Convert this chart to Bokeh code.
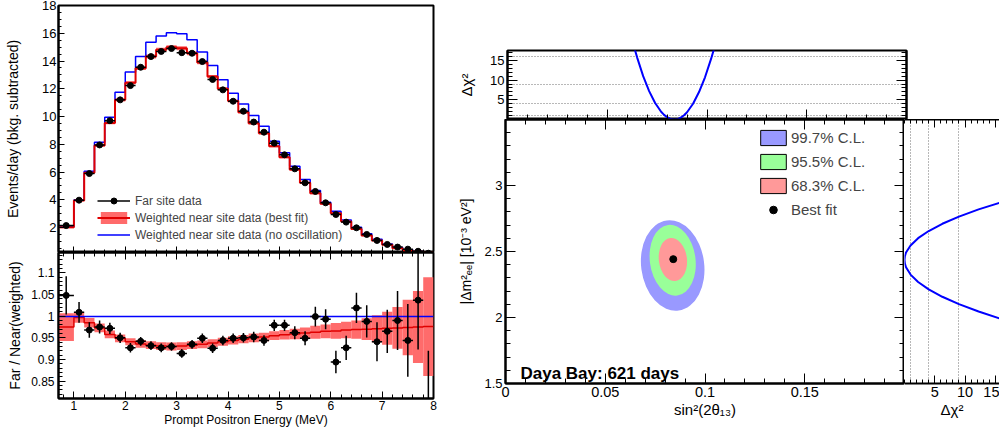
from bokeh.plotting import figure
from bokeh.layouts import row, column
from bokeh.models import (Range1d, LinearAxis, SingleIntervalTicker, FixedTicker,
                          NumeralTickFormatter, Legend, LegendItem, Label,
                          CustomLabelingPolicy)
from bokeh.embed import file_html
from bokeh.resources import INLINE

FONT = "Liberation Sans"
NAN = float("nan")

# ---------------- data: prompt spectrum ----------------
bin_edges = [0.7, 1.0, 1.2, 1.4, 1.6, 1.8, 2.0, 2.2, 2.4, 2.6, 2.8, 3.0, 3.2, 3.4, 3.6, 3.8,
             4.0, 4.2, 4.4, 4.6, 4.8, 5.0, 5.2, 5.4, 5.6, 5.8, 6.0, 6.2, 6.4, 6.6, 6.8, 7.0,
             7.2, 7.4, 7.6, 7.8, 8.0]
far_rate = [2.14, 3.97, 5.89, 7.95, 9.70, 11.20, 12.23, 13.55, 14.32, 14.69, 14.90, 14.60,
            14.56, 13.96, 12.67, 11.92, 11.10, 10.38, 9.60, 8.87, 8.08, 7.24, 6.23, 5.22,
            4.60, 3.78, 2.94, 2.39, 1.98, 1.50, 1.07, 0.78, 0.59, 0.44, 0.29, 0.15]
far_rate_err = [0.09, 0.10, 0.11, 0.12, 0.13, 0.14, 0.15, 0.14, 0.15, 0.16, 0.16, 0.16,
                0.16, 0.16, 0.15, 0.14, 0.13, 0.12, 0.12, 0.11, 0.11, 0.10, 0.10, 0.09,
                0.11, 0.09, 0.08, 0.07, 0.07, 0.06, 0.05, 0.04, 0.04, 0.03, 0.03, 0.03]
fit_rate = [2.02, 3.95, 5.94, 7.91, 9.54, 11.20, 12.43, 13.48, 14.32, 14.81, 15.00, 14.92,
            14.56, 13.90, 12.88, 12.00, 11.12, 10.31, 9.52, 8.80, 7.86, 7.07, 6.18, 5.22,
            4.47, 3.71, 3.03, 2.43, 1.90, 1.42, 1.06, 0.75, 0.51, 0.34, 0.25, 0.18]
fit_rate_err = [0.07, 0.05, 0.07, 0.08, 0.09, 0.11, 0.11, 0.13, 0.14, 0.14, 0.14, 0.14,
                0.14, 0.13, 0.12, 0.11, 0.11, 0.10, 0.10, 0.09, 0.08, 0.08, 0.08, 0.07,
                0.07, 0.06, 0.06, 0.05, 0.04, 0.04, 0.04, 0.03, 0.03, 0.02, 0.02, 0.02]
noosc_rate = [2.05, 3.99, 6.06, 8.15, 9.95, 11.75, 13.20, 14.33, 15.36, 15.80, 16.04, 15.96,
              15.53, 14.65, 13.68, 12.65, 11.68, 10.90, 10.07, 9.30, 8.22, 7.38, 6.42, 5.46,
              4.67, 3.82, 3.17, 2.55, 2.02, 1.55, 1.16, 0.82, 0.56, 0.38, 0.27, 0.19]

# ---------------- data: far / near ratio ----------------
ratio_data = [1.048, 1.009, 0.968, 0.975, 0.972, 0.950, 0.927, 0.942, 0.932, 0.927, 0.930, 0.914,
              0.935, 0.949, 0.926, 0.944, 0.949, 0.950, 0.952, 0.944, 0.979, 0.979, 0.962, 0.949,
              0.999, 0.993, 0.894, 0.927, 1.019, 0.988, 0.941, 0.965, 0.990, 0.944, 1.037, 0.770]
ratio_err = [0.044, 0.024, 0.018, 0.015, 0.013, 0.012, 0.011, 0.010, 0.010, 0.010, 0.010, 0.010,
             0.010, 0.011, 0.011, 0.011, 0.011, 0.011, 0.012, 0.012, 0.013, 0.013, 0.015, 0.016,
             0.023, 0.023, 0.026, 0.028, 0.035, 0.037, 0.045, 0.050, 0.068, 0.084, 0.114, 0.150]
ratio_fit = [0.975, 0.997, 0.985, 0.973, 0.958, 0.949, 0.941, 0.936, 0.933, 0.931, 0.930, 0.931,
             0.933, 0.935, 0.938, 0.941, 0.944, 0.947, 0.950, 0.952, 0.955, 0.957, 0.959, 0.961,
             0.963, 0.965, 0.966, 0.968, 0.969, 0.970, 0.971, 0.972, 0.973, 0.974, 0.975, 0.976]
ratio_fit_err = [0.032, 0.012, 0.011, 0.010, 0.009, 0.009, 0.008, 0.009, 0.009, 0.009, 0.009, 0.009,
                 0.009, 0.009, 0.009, 0.009, 0.0095, 0.0095, 0.010, 0.010, 0.010, 0.011, 0.012, 0.013,
                 0.015, 0.016, 0.018, 0.019, 0.021, 0.025, 0.031, 0.038, 0.048, 0.064, 0.083, 0.114]
noosc_ratio = 1.0

# ---------------- data: oscillation fit ----------------
cl_labels = ["99.7% C.L.", "95.5% C.L.", "68.3% C.L."]
cl_s2t = [0.0838, 0.0838, 0.0839]
cl_dm2 = [2.394, 2.434, 2.439]
cl_width = [0.0316, 0.0229, 0.0141]
cl_height = [0.689, 0.540, 0.328]
cl_angle = [0.13, 0.13, 0.12]
best_s2t = [0.0841]
best_dm2 = [2.442]

scan_s2t = [0.0630, 0.0650, 0.0680, 0.0710, 0.0740, 0.0770, 0.0785, 0.0800, 0.0815, 0.0836,
            0.0855, 0.0870, 0.0885, 0.0900, 0.0930, 0.0960, 0.0990, 0.1020, 0.1045]
scan_s2t_chi2 = [19.2, 15.7, 11.0, 7.2, 4.2, 1.97, 1.18, 0.59, 0.20, 0.0,
                 0.16, 0.52, 1.09, 1.85, 4.0, 6.96, 10.7, 15.3, 19.6]

scan_dm2 = [2.927, 2.873, 2.819, 2.764, 2.710, 2.655, 2.601, 2.546, 2.492, 2.464, 2.437,
            2.409, 2.381, 2.325, 2.269, 2.213, 2.157, 2.101, 2.045, 1.989, 1.933]
scan_dm2_chi2 = [20.25, 16.0, 12.25, 9.0, 6.25, 4.0, 2.25, 1.0, 0.25, 0.0625, 0.0,
                 0.0625, 0.25, 1.0, 2.25, 4.0, 6.25, 9.0, 12.25, 16.0, 20.25]

sigma_levels = [1, 4, 9, 16]

# ---------------- colours ----------------
C_FIT = "#e00000"
C_BAND = "#ff6b6b"
C_BLUE = "#0000ff"
CL_COLORS = ["#9999ff", "#99ff99", "#ff9999"]
GRID = "#707070"

# derived helpers
lefts = bin_edges[:-1]
rights = bin_edges[1:]
centers = [(a + b) / 2 for a, b in zip(lefts, rights)]


def steps(vals):
    return list(vals) + [vals[-1]]


def style_axis(ax, tmaj, tmin, label_size=None, standoff=3):
    ax.major_tick_in = tmaj
    ax.major_tick_out = 0
    ax.minor_tick_in = tmin
    ax.minor_tick_out = 0
    ax.axis_line_color = "black"
    ax.axis_line_width = 2
    ax.major_tick_line_color = "black"
    ax.minor_tick_line_color = "black"
    ax.major_tick_line_width = 1
    ax.minor_tick_line_width = 1
    ax.major_label_text_font = FONT
    ax.major_label_text_color = "black"
    ax.axis_label_text_font = FONT
    ax.axis_label_text_font_style = "normal"
    ax.axis_label_text_color = "black"
    if label_size is None:
        # tick marks only: no tick labels are kept
        ax.major_label_text_font_size = "0px"
        ax.major_label_standoff = 0
        ax.major_label_policy = CustomLabelingPolicy(code="if (false) { yield 0 }")
    else:
        ax.major_label_text_font_size = label_size
        ax.major_label_standoff = standoff


def make_fig(xr, yr, fw, fh, left, right, top, bottom, xloc="below", yloc="left"):
    p = figure(x_range=xr, y_range=yr, frame_width=fw, frame_height=fh,
               min_border_left=left, min_border_right=right,
               min_border_top=top, min_border_bottom=bottom,
               x_axis_location=xloc, y_axis_location=yloc,
               output_backend="svg", toolbar_location=None)
    p.grid.visible = False
    p.outline_line_color = "black"
    p.outline_line_width = 2
    p.background_fill_color = "white"
    p.border_fill_color = "white"
    return p


# ================= left top: spectrum =================
xr_e = Range1d(0.7, 8.0)
p1 = make_fig(xr_e, Range1d(0.2, 18.0), 375, 247, 58, 22, 5, 0)
r_band = p1.quad(left=lefts, right=rights, bottom=[v - e for v, e in zip(fit_rate, fit_rate_err)],
                 top=[v + e for v, e in zip(fit_rate, fit_rate_err)],
                 fill_color=C_BAND, line_color=None)
r_noosc = p1.step(bin_edges, steps(noosc_rate), mode="after", line_color=C_BLUE, line_width=1.5)
r_fit = p1.step(bin_edges, steps(fit_rate), mode="after", line_color=C_FIT, line_width=2)
r_h = p1.segment(x0=lefts, y0=far_rate, x1=rights, y1=far_rate, line_color="black", line_width=1.5)
p1.segment(x0=centers, y0=[v - e for v, e in zip(far_rate, far_rate_err)],
           x1=centers, y1=[v + e for v, e in zip(far_rate, far_rate_err)],
           line_color="black", line_width=1.5)
r_pts = p1.scatter(centers, far_rate, size=6, color="black")

ax = p1.yaxis[0]
ax.ticker = SingleIntervalTicker(interval=2, num_minor_ticks=4)
style_axis(ax, 6, 3, "13px", 2)
ax.axis_label = "Events/day (bkg. subtracted)"
ax.axis_label_text_font_size = "14px"
ax.axis_label_standoff = 18
ax = p1.xaxis[0]
ax.ticker = SingleIntervalTicker(interval=1, num_minor_ticks=5)
style_axis(ax, 6, 3)

leg1 = Legend(items=[LegendItem(label="Far site data", renderers=[r_h, r_pts]),
                     LegendItem(label="Weighted near site data (best fit)", renderers=[r_band, r_fit]),
                     LegendItem(label="Weighted near site data (no oscillation)", renderers=[r_noosc])],
              location=(39, 10), label_text_font=FONT, label_text_font_size="12px",
              glyph_width=33, glyph_height=15, label_height=15, label_standoff=5,
              spacing=2, padding=0, margin=0, border_line_color=None,
              background_fill_alpha=0)
p1.add_layout(leg1)

# ================= left bottom: ratio =================
p2 = make_fig(xr_e, Range1d(0.81, 1.147), 375, 146, 58, 22, 0, 34)
p2.quad(left=lefts, right=rights, bottom=[v - e for v, e in zip(ratio_fit, ratio_fit_err)],
        top=[v + e for v, e in zip(ratio_fit, ratio_fit_err)],
        fill_color=C_BAND, line_color=None)
p2.step(bin_edges, steps(ratio_fit), mode="after", line_color=C_FIT, line_width=1.5)
p2.hspan(y=[noosc_ratio], line_color=C_BLUE, line_width=1.5)
p2.segment(x0=lefts, y0=ratio_data, x1=rights, y1=ratio_data, line_color="black", line_width=1.5)
p2.segment(x0=centers, y0=[v - e for v, e in zip(ratio_data, ratio_err)],
           x1=centers, y1=[v + e for v, e in zip(ratio_data, ratio_err)],
           line_color="black", line_width=1.5)
p2.scatter(centers, ratio_data, size=6, color="black")

ax = p2.yaxis[0]
ax.ticker = SingleIntervalTicker(interval=0.05, num_minor_ticks=5)
ax.formatter = NumeralTickFormatter(format="0.[00]")
style_axis(ax, 7, 4, "12px", 4)
ax.axis_label = "Far / Near(weighted)"
ax.axis_label_text_font_size = "14px"
ax.axis_label_standoff = 5
ax = p2.xaxis[0]
ax.ticker = SingleIntervalTicker(interval=1, num_minor_ticks=5)
style_axis(ax, 7, 4, "12px", 2)
ax.axis_label = "Prompt Positron Energy (MeV)"
ax.axis_label_text_font_size = "12px"
ax.axis_label_standoff = 0
top_ax = LinearAxis(ticker=SingleIntervalTicker(interval=1, num_minor_ticks=5))
style_axis(top_ax, 7, 4)
p2.add_layout(top_ax, "above")

# ================= right: fit panels =================
s2t_ticker = dict(ticks=[0, 0.05, 0.1, 0.15], minor_ticks=[i / 100 for i in range(0, 21)])
xr_s = Range1d(0.0, 0.2)
yr_m = Range1d(1.5, 3.5)

# top: chi2 vs sin^2
p3 = make_fig(xr_s, Range1d(0, 17.5), 399, 69, 50, 95, 50, 0)
p3.hspan(y=sigma_levels, line_color=GRID, line_width=1, line_dash="1 2")
p3.line(scan_s2t, scan_s2t_chi2, line_color=C_BLUE, line_width=2)
ax = p3.yaxis[0]
ax.ticker = FixedTicker(ticks=[5, 10, 15], minor_ticks=list(range(0, 18)))
style_axis(ax, 10, 5, "13px", 3)
ax.axis_label = "Δχ²"
ax.axis_label_text_font_size = "15px"
ax.axis_label_standoff = 12
ax = p3.xaxis[0]
ax.ticker = FixedTicker(**s2t_ticker)
style_axis(ax, 10, 5)
r_ax = LinearAxis(ticker=FixedTicker(ticks=[5, 10, 15], minor_ticks=list(range(0, 18))))
style_axis(r_ax, 10, 5)
p3.add_layout(r_ax, "right")

# main: contours
p4 = make_fig(xr_s, yr_m, 399, 264, 50, 0, 0, 49)
for i in range(len(cl_labels)):
    p4.ellipse(x=[cl_s2t[i]], y=[cl_dm2[i]], width=[cl_width[i]], height=[cl_height[i]],
               angle=[cl_angle[i]], fill_color=CL_COLORS[i], line_color=None)
r_best = p4.scatter(best_s2t, best_dm2, size=7, color="black")
# legend keys (boxes) for the contour levels; not drawn in the plot area
leg_r = []
for i in range(len(cl_labels)):
    leg_r.append(p4.quad(left=[NAN], right=[NAN], top=[NAN], bottom=[NAN],
                         fill_color=CL_COLORS[i], line_color="black", line_width=1))
ax = p4.yaxis[0]
ax.ticker = FixedTicker(ticks=[1.5, 2, 2.5, 3], minor_ticks=[1.5 + i / 10 for i in range(21)])
ax.formatter = NumeralTickFormatter(format="0.[0]")
style_axis(ax, 10, 5, "13px", 3)
ax.axis_label = "|Δm²ₑₑ| [10⁻³ eV²]"
ax.axis_label_text_font_size = "14px"
ax.axis_label_standoff = 7
ax = p4.xaxis[0]
ax.ticker = FixedTicker(**s2t_ticker)
ax.formatter = NumeralTickFormatter(format="0.[00]")
style_axis(ax, 10, 5, "14.5px", 3)
ax.axis_label = "sin²(2θ₁₃)"
ax.axis_label_text_font_size = "15px"
ax.axis_label_standoff = 1
r_ax = LinearAxis(ticker=FixedTicker(ticks=[1.5, 2, 2.5, 3], minor_ticks=[1.5 + i / 10 for i in range(21)]))
style_axis(r_ax, 10, 5)
p4.add_layout(r_ax, "right")
t_ax = LinearAxis(ticker=FixedTicker(**s2t_ticker))
style_axis(t_ax, 10, 5)
p4.add_layout(t_ax, "above")

leg4 = Legend(items=[LegendItem(label=cl_labels[i], renderers=[leg_r[i]]) for i in range(3)] +
              [LegendItem(label="Best fit", renderers=[r_best])],
              location=(252, 164), label_text_font=FONT, label_text_font_size="15px",
              glyph_width=32, glyph_height=19, label_height=19, label_standoff=2,
              spacing=5, padding=0, margin=0, border_line_color=None,
              background_fill_alpha=0)
p4.add_layout(leg4)
p4.add_layout(Label(x=0.0075, y=1.578, text="Daya Bay: 621 days", text_font=FONT,
                    text_font_size="17px", text_font_style="bold", text_color="black",
                    text_baseline="alphabetic"))

# side: chi2 vs dm2
p5 = make_fig(Range1d(0, 15.7), yr_m, 95, 264, 0, 0, 0, 49, yloc=None)
p5.outline_line_color = None
p5.vspan(x=sigma_levels, line_color=GRID, line_width=1, line_dash="1 2")
p5.line(scan_dm2_chi2, scan_dm2, line_color=C_BLUE, line_width=2)
ax = p5.xaxis[0]
ax.ticker = FixedTicker(ticks=[5, 10, 15], minor_ticks=list(range(0, 17)))
style_axis(ax, 8, 4, "14.5px", 3)
ax.axis_label = "Δχ²"
ax.axis_label_text_font_size = "15px"
ax.axis_label_standoff = 1
t_ax = LinearAxis(ticker=FixedTicker(ticks=[5, 10, 15], minor_ticks=list(range(0, 17))))
style_axis(t_ax, 8, 4)
p5.add_layout(t_ax, "above")

root = row(column(p1, p2), column(p3, row(p4, p5)))

with open("out.html", "w") as f:
    f.write(file_html(root, INLINE))
